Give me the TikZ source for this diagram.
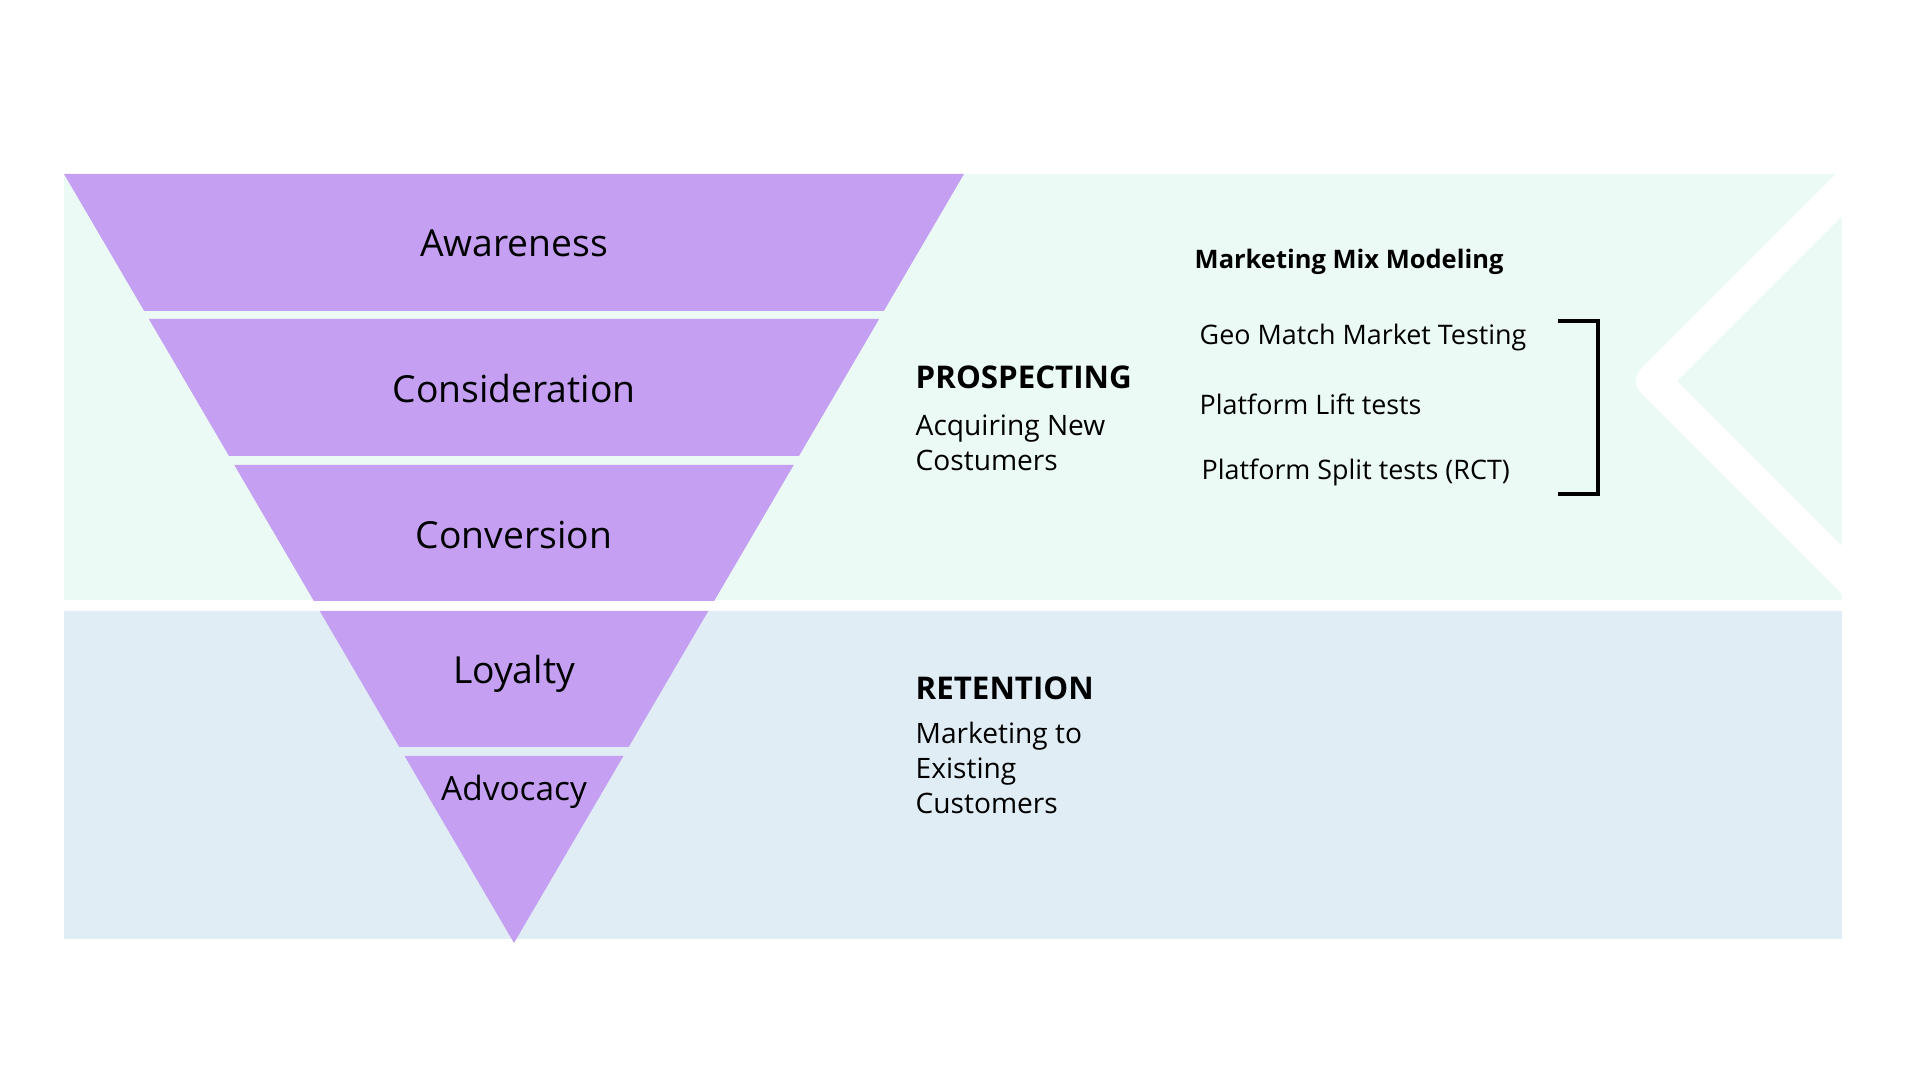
\documentclass[tikz,border=0pt]{standalone}
\usepackage{fontspec}
\setmainfont{Open Sans}
\usepackage{tikz}

\definecolor{funnel}{HTML}{C59FF2}
\definecolor{prospect}{HTML}{EBFAF5}
\definecolor{retain}{HTML}{E0EDF5}

\begin{document}
\begin{tikzpicture}[
  stage/.style={inner sep=0pt, font=\fontsize{10.6}{12}\selectfont},
  side/.style={inner sep=0pt, anchor=west, align=left, font=\fontsize{8}{10}\selectfont},
  sidehead/.style={inner sep=0pt, anchor=west, font=\fontsize{8.9}{10}\selectfont\bfseries},
  method/.style={inner sep=0pt, anchor=west, font=\fontsize{7.65}{9}\selectfont}]
  \useasboundingbox (0,0) rectangle (19.2,10.8);

  % Prospecting and retention panels
  \fill[prospect] (0.64,4.80) rectangle (18.42,9.06);
  \fill[retain] (0.64,1.41) rectangle (18.42,4.69);

  % White chevron on the right edge
  \begin{scope}
    \clip (0.64,4.80) rectangle (18.42,9.06);
    \draw[white, line width=9.7pt, line join=round]
      (18.9,9.36) -- (16.53,6.99) -- (18.9,4.62);
  \end{scope}

  % Funnel stages
  \foreach \yt/\yb in {9.06/7.69, 7.61/6.24, 6.15/4.79, 4.69/3.33, 3.24/1.37}{
    \pgfmathsetmacro{\wt}{4.5*(\yt-1.37)/7.69}
    \pgfmathsetmacro{\wb}{4.5*(\yb-1.37)/7.69}
    \fill[funnel] (5.14-\wt,\yt) -- (5.14+\wt,\yt) -- (5.14+\wb,\yb)
      -- (5.14-\wb,\yb) -- cycle;
  }
  \node[stage] (aware) at (5.14,8.37) {Awareness};
  \node[stage] (consid) at (5.14,6.91) {Consideration};
  \node[stage] (conver) at (5.14,5.45) {Conversion};
  \node[stage] (loyal) at (5.14,4.06) {Loyalty};
  \node[stage, font=\fontsize{9.5}{10}\selectfont] (advoc) at (5.14,2.88) {Advocacy};

  % Prospecting text
  \node[sidehead] (prosp) at (9.15,7.03) {PROSPECTING};
  \node[side] (prospdesc) at (9.15,6.375) {Acquiring New\\Costumers};

  % Retention text
  \node[sidehead] (reten) at (9.15,3.92) {RETENTION};
  \node[side] (retendesc) at (9.15,3.12) {Marketing to\\Existing\\Customers};

  % Measurement methods
  \node[method, font=\fontsize{7.25}{9}\selectfont\bfseries] (mmm) at (11.94,8.18)
    {Marketing Mix Modeling};
  \node[method] (geo) at (11.99,7.42) {Geo Match Market Testing};
  \node[method] (lift) at (11.99,6.76) {Platform Lift tests};
  \node[method] (split) at (12.01,6.08) {Platform Split tests (RCT)};
  \draw[line width=1.1pt] (15.58,7.59) -- (15.98,7.59) -- (15.98,5.86)
    -- (15.58,5.86);
\end{tikzpicture}
\end{document}
